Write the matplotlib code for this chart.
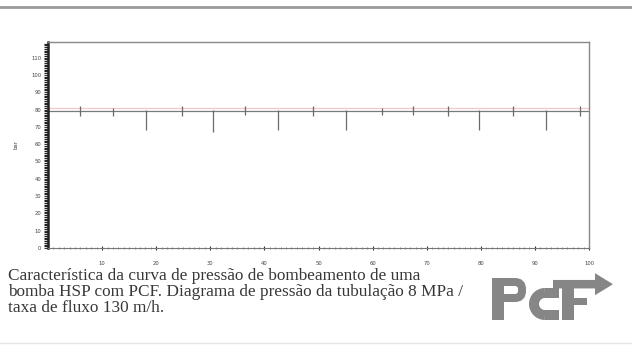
import numpy as np
import matplotlib.pyplot as plt
from matplotlib.patches import FancyArrow, Rectangle, FancyBboxPatch, Arc

# pump pressure trace (bar) over time
time = [0, 100]
pressure = [79, 79]
reference = [81, 81]

# pressure spikes: time, top and bottom of each spike
spike_t = [5.9, 12.0, 18.1, 24.8, 30.5, 36.4, 42.5, 49.0, 55.1, 61.7, 67.5, 73.9, 79.7, 86.0, 92.1, 98.3]
spike_hi = [82, 81, 80, 82, 80, 82, 80, 82, 80, 81, 82, 82, 80, 82, 80, 82]
spike_lo = [76, 76, 68, 76, 67, 77, 68, 76, 68, 77, 77, 76, 68, 76, 68, 76]

yticks = list(range(0, 120, 10))
xticks = list(range(10, 110, 10))
caption = ("Característica da curva de pressão de bombeamento de uma\n"
           "bomba HSP com PCF. Diagrama de pressão da tubulação 8 MPa /\n"
           "taxa de fluxo 130 m/h.")

W, H = 632, 347
fig = plt.figure(figsize=(W / 100, H / 100), dpi=100)
fig.patch.set_facecolor('white')

ax = fig.add_axes([48 / W, 1 - 248 / H, (589 - 48) / W, (248 - 42) / H])
ax.plot(time, reference, color='#f5c6cc', linewidth=0.9)
ax.plot(time, pressure, color='#7a7a7a', linewidth=0.9)
ax.vlines(spike_t, spike_lo, spike_hi, color='#6a6a6a', linewidth=0.9)

ax.set_xlim(0, 100)
ax.set_ylim(0, 119)
ax.set_yticks(yticks)
ax.set_xticks(xticks)
ax.set_yticks(np.arange(0, 119, 1), minor=True)
ax.set_xticks(np.arange(0, 101, 1), minor=True)
ax.tick_params(axis='both', which='major', labelsize=3.8, length=3, width=0.8,
               color='#333333', labelcolor='#444444', pad=2)
ax.tick_params(axis='y', which='minor', length=3, width=0.9, color='#222222')
ax.tick_params(axis='x', which='minor', length=1.5, width=0.6, color='#777777', direction='inout')
ax.tick_params(axis='x', which='major', direction='inout', pad=8)
ax.set_ylabel('bar', fontsize=3.8, color='#444444', labelpad=9)

ax.spines['left'].set_linewidth(1.8)
ax.spines['left'].set_color('#222222')
for s in ['top', 'right']:
    ax.spines[s].set_color('#888888')
    ax.spines[s].set_linewidth(1.0)
ax.spines['bottom'].set_color('#777777')
ax.spines['bottom'].set_linewidth(0.8)

# overlay in pixel coordinates for borders, caption and logo
ov = fig.add_axes([0, 0, 1, 1])
ov.set_xlim(0, W)
ov.set_ylim(H, 0)
ov.axis('off')
ov.set_zorder(-1)
ov.plot([0, W], [6.5, 6.5], color='#9a9a9a', linewidth=2)
ov.plot([0, W], [343, 343], color='#e6e6e6', linewidth=1)

ov.text(8, 268, caption, family='Liberation Serif', fontsize=12.4, color='#383838',
        va='top', ha='left', linespacing=1.0)

# PCF logo
logo = '#868686'
px = 0.72  # points per pixel
ov.add_patch(Rectangle((492, 278), 12, 42, color=logo, linewidth=0))
ov.add_patch(FancyBboxPatch((498, 282), 24, 16, boxstyle='round,pad=0,rounding_size=7',
                            fill=False, edgecolor=logo, linewidth=8 * px))
ov.add_patch(Arc((545, 304), 22, 22, theta1=90, theta2=270, edgecolor=logo, linewidth=10 * px))
ov.add_patch(Rectangle((545, 310), 14, 10, color=logo, linewidth=0))
ov.add_patch(Rectangle((545, 288), 14, 10, color=logo, linewidth=0))
ov.add_patch(Rectangle((562, 280), 12, 40, color=logo, linewidth=0))
ov.add_patch(Rectangle((562, 298), 25, 7, color=logo, linewidth=0))
ov.add_patch(FancyArrow(553, 284.2, 42, 0, width=8.5, head_width=22, head_length=18,
                        length_includes_head=False, color=logo, linewidth=0))

fig.savefig('out.png', dpi=100, facecolor='white')
